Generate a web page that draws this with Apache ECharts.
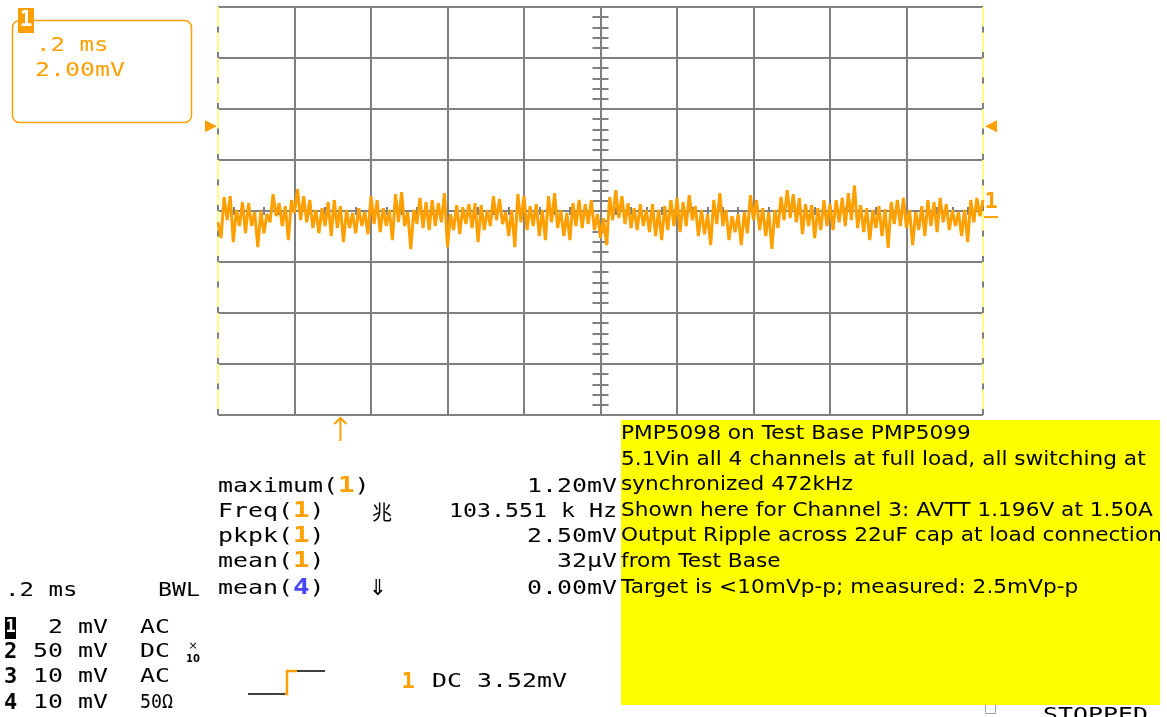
<!DOCTYPE html>
<html>
<head>
<meta charset="utf-8">
<script src="https://cdn.jsdelivr.net/npm/echarts@6/dist/echarts.min.js"></script>
<style>
  html, body { margin: 0; padding: 0; background: #ffffff; }
  #scope { width: 1167px; height: 717px; }
</style>
</head>
<body>
<div id="scope"></div>
<script>
// Channel 1 ripple, mV, one sample every 8 µs across the 2 ms screen (0.2 ms/div)
const ch1mV = [
  -0.24,-0.86, 0.75,-0.16, 0.78,-1.02, 0.24,-0.39, 0.55,-0.67,
   0.51,-0.39, 0.16,-1.22, 0.20,-0.67, 0.08,-0.24, 0.86, 0.00,
   0.51,-0.39, 0.39,-0.94, 0.63, 0.12, 1.06,-0.16, 0.78,-0.24,
   0.63,-0.47, 0.24,-0.67, 0.31,-0.39, 0.55,-0.78, 0.63,-0.47,
   0.39,-1.02, 0.24,-0.47, 0.12,-0.67, 0.31,-0.39, 0.16,-0.71,
   0.78,-0.31, 0.63,-0.63, 0.31,-0.39, 0.24,-0.94, 0.86,-0.24,
   0.94,-0.39, 0.16,-1.30, 0.24,-0.31, 0.71,-0.47, 0.55,-0.55,
   0.63,-0.39, 0.51,-0.24, 0.90,-1.22, 0.08,-0.55, 0.43,-0.71,
   0.35,-0.31, 0.47,-0.47, 0.51,-1.02, 0.43,-0.55, 0.24,-0.39,
   0.78,-0.16, 0.67,-0.31, 0.16,-0.78, 0.24,-1.22, 0.86,-0.24,
   0.78,-0.55, 0.39,-0.39, 0.47,-0.78, 0.24,-0.94, 0.78,-0.24,
   0.90,-0.47, 0.24,-0.78, 0.12,-0.94, 0.51,-0.39, 0.63,-0.47,
   0.47,-0.31, 0.63,-0.55, 0.08,-0.86,-0.08,-1.14, 0.75,-0.16,
   1.02,-0.08, 0.78,-0.31, 0.51,-0.47, 0.31,-0.55, 0.47,-0.39,
   0.24,-0.63, 0.47,-0.78, 0.24,-0.94, 0.39,-0.55, 0.63,-0.39,
   0.71,-0.63, 0.55,-0.39, 0.82,-0.16, 0.39,-0.78, 0.24,-0.71,
   0.08,-1.14, 0.63,-0.31, 0.90,-0.39, 0.24,-0.94, 0.00,-0.63,
   0.08,-1.14, 0.16,-0.67, 0.82,-0.16, 0.63,-0.55, 0.31,-0.78,
   0.16,-1.29, 0.24,-0.47, 0.75,-0.16, 1.02,-0.08, 0.86,-0.24,
   0.71,-0.71, 0.47,-0.39, 0.43,-0.86, 0.31,-0.55, 0.63,-0.39,
   0.47,-0.55, 0.63,-0.24, 0.71,-0.39, 0.90,-0.16, 1.20,-0.47,
   0.43,-0.63, 0.31,-0.94, 0.24,-0.47, 0.39,-0.78, 0.27,-1.25,
   0.55,-0.31, 0.63,-0.39, 0.71,-0.47, 0.24,-1.14, 0.16,-0.55,
   0.39,-0.78, 0.63,-0.39, 0.55,-0.63, 0.71,-0.24, 0.47,-0.55,
   0.24,-0.39, 0.16,-0.78, 0.24,-1.02, 0.63,-0.24, 0.71, 0.00,
   0.63
];
const sampleStepMs = 0.008;
const screenStartMs = -1;

// Screen scales: 10 x 0.2 ms horizontally, 8 x 2 mV vertically
const timeRangeMs = [-1, 1];
const timePerDivMs = 0.2;
const ch1ScreenMv = [-7.8, 8.2];   // channel 1 ground sits just under mid-screen

// Trigger
const triggerLevelMv = 3.52;
const triggerTimeMs = -0.68;

// Readouts
const timebaseLabel = '.2 ms';
const ch1ScaleLabel = '2.00mV';
const measNames = ['maximum', 'Freq', 'pkpk', 'mean', 'mean'];
const measSources = ['1', '1', '1', '1', '4'];
const measValues = ['1.20mV', '103.551 k Hz', '2.50mV', '32µV', '0.00mV'];
const channelIds = ['1', '2', '3', '4'];
const channelScales = ['2', '50', '10', '10'];
const channelCouplings = ['AC', 'DC', 'AC', '50Ω'];
const triggerReadout = 'DC 3.52mV';
const noteLines = [
  'PMP5098 on Test Base PMP5099',
  '5.1Vin all 4 channels at full load, all switching at',
  'synchronized 472kHz',
  'Shown here for Channel 3: AVTT 1.196V at 1.50A',
  'Output Ripple across 22uF cap at load connection',
  'from Test Base',
  'Target is <10mVp-p; measured: 2.5mVp-p'
];

const ORANGE = '#ffa000';
const BLUE = '#4646ff';
const GRID_GRAY = '#808080';
const BORDER_YELLOW = '#ffff88';
const MONO = '"DejaVu Sans Mono", monospace';

const tracePoints = ch1mV.map((v, i) => [+(screenStartMs + i * sampleStepMs).toFixed(3), v]);

const chart = echarts.init(document.getElementById('scope'), null, { renderer: 'canvas' });

const hidden = { show: false };
function centerTickAxis(inside, len) {
  return {
    axisLine: { show: true, onZero: true, onZeroAxisIndex: 0, lineStyle: { color: GRID_GRAY, width: 2 } },
    axisTick: { show: true, inside: inside, length: len, lineStyle: { color: GRID_GRAY, width: 2 } },
    minorTick: { show: true, splitNumber: 5, length: len, lineStyle: { color: GRID_GRAY, width: 2 } },
    axisLabel: hidden,
    splitLine: hidden
  };
}

chart.setOption({
  animation: false,
  backgroundColor: '#ffffff',
  grid: { left: 218, top: 7, width: 765, height: 408, containLabel: false, outerBoundsMode: 'none' },
  xAxis: [
    { type: 'value', min: timeRangeMs[0], max: timeRangeMs[1], interval: timePerDivMs, position: 'bottom',
      axisLine: hidden, axisTick: hidden, axisLabel: hidden,
      splitLine: { show: true, lineStyle: { color: GRID_GRAY, width: 2 } } },
    Object.assign({ type: 'value', min: timeRangeMs[0], max: timeRangeMs[1], interval: timePerDivMs, position: 'bottom' }, centerTickAxis(false, 4)),
    Object.assign({ type: 'value', min: timeRangeMs[0], max: timeRangeMs[1], interval: timePerDivMs, position: 'bottom' }, centerTickAxis(true, 4))
  ],
  yAxis: [
    { type: 'value', min: -4, max: 4, interval: 1, position: 'left',
      axisLine: hidden, axisTick: hidden, axisLabel: hidden,
      splitLine: { show: true, lineStyle: { color: GRID_GRAY, width: 2 } } },
    { type: 'value', min: ch1ScreenMv[0], max: ch1ScreenMv[1], show: false, position: 'left' },
    Object.assign({ type: 'value', min: -4, max: 4, interval: 1, position: 'left' }, centerTickAxis(false, 8)),
    Object.assign({ type: 'value', min: -4, max: 4, interval: 1, position: 'left' }, centerTickAxis(true, 8))
  ],
  series: [{
    type: 'line',
    xAxisIndex: 0,
    yAxisIndex: 1,
    data: tracePoints,
    showSymbol: false,
    symbol: 'none',
    clip: true,
    silent: true,
    z: 5,
    lineStyle: { color: ORANGE, width: 3, join: 'bevel' },
    markLine: {
      silent: true,
      symbol: 'none',
      label: { show: false },
      data: [
        { xAxis: timeRangeMs[0], lineStyle: { color: BORDER_YELLOW, width: 2, type: 'solid' } },
        { xAxis: timeRangeMs[1], lineStyle: { color: BORDER_YELLOW, width: 2, type: 'solid' } },
        { xAxis: timeRangeMs[0], lineStyle: { color: GRID_GRAY, width: 2, type: [6, 19.5] } },
        { xAxis: timeRangeMs[1], lineStyle: { color: GRID_GRAY, width: 2, type: [6, 19.5] } }
      ]
    }
  }]
});

// Fixed-pitch readout text, stretched to the scope's 15 px character cell
function mono(x, y, text, o) {
  o = o || {};
  const size = o.size || 19;
  const pitch = o.pitch || 15;
  return {
    type: 'text', x: x, y: y, z: 20, silent: true,
    scaleX: pitch / (size * 0.602),
    style: {
      text: text,
      font: (o.weight || 'normal') + ' ' + size + 'px ' + MONO,
      fill: o.color || '#000000',
      align: o.align || 'left',
      verticalAlign: 'middle',
      rich: o.rich
    }
  };
}
const srcRich = {
  o: { fill: ORANGE, fontWeight: 'bold', fontSize: 21, fontFamily: MONO },
  b: { fill: BLUE, fontWeight: 'bold', fontSize: 21, fontFamily: MONO }
};

const g = [];

// Channel 1 scale box
g.push({ type: 'rect', z: 20, silent: true, shape: { x: 12.5, y: 20.5, width: 179, height: 102, r: 7 },
  style: { fill: 'none', stroke: ORANGE, lineWidth: 1.5 } });
g.push({ type: 'rect', z: 21, silent: true, shape: { x: 18, y: 8, width: 16, height: 25 }, style: { fill: ORANGE } });
g.push({ type: 'text', z: 22, silent: true, x: 26, y: 21,
  style: { text: '1', font: 'bold 21px ' + MONO, fill: '#ffffff', align: 'center', verticalAlign: 'middle' } });
g.push(mono(36, 46, timebaseLabel, { color: ORANGE, pitch: 14.5 }));
g.push(mono(35, 71, ch1ScaleLabel, { color: ORANGE }));

// Measurements
const measRows = [487, 512, 537, 562, 589];
measNames.forEach((name, i) => {
  const tag = measSources[i] === '4' ? 'b' : 'o';
  g.push(mono(218, measRows[i], name + '({' + tag + '|' + measSources[i] + '})', { rich: srcRich }));
  g.push(mono(617, measRows[i], measValues[i], { align: 'right', pitch: i === 1 ? 14 : 15 }));
});
g.push({ type: 'text', z: 20, silent: true, x: 382, y: 512,
  style: { text: '兆', font: '20px "Noto Sans CJK SC"', fill: '#000', align: 'center', verticalAlign: 'middle' } });
g.push({ type: 'text', z: 20, silent: true, x: 378, y: 589,
  style: { text: '⇓', font: '22px "DejaVu Sans"', fill: '#000', align: 'center', verticalAlign: 'middle' } });
g.push(mono(5, 591, timebaseLabel, { pitch: 14.5 }));
g.push(mono(158, 591, 'BWL', { pitch: 14 }));

// Channel settings
const chRows = [628, 652, 677, 703];
channelIds.forEach((id, i) => {
  const y = chRows[i];
  if (i === 0) {
    g.push({ type: 'rect', z: 20, silent: true, shape: { x: 5, y: y - 11, width: 11, height: 22 }, style: { fill: '#000' } });
    g.push({ type: 'text', z: 21, silent: true, x: 10.5, y: y,
      style: { text: id, font: 'bold 17px ' + MONO, fill: '#fff', align: 'center', verticalAlign: 'middle' } });
  } else {
    g.push({ type: 'text', z: 20, silent: true, x: 10.5, y: y,
      style: { text: id, font: 'bold 22px ' + MONO, fill: '#000', align: 'center', verticalAlign: 'middle' } });
  }
  g.push(mono(63, y, channelScales[i], { align: 'right' }));
  g.push(mono(78, y, 'mV'));
  g.push(mono(140, y, channelCouplings[i], { pitch: i === 3 ? 11 : 15 }));
});
g.push({ type: 'text', z: 20, silent: true, x: 193, y: 646,
  style: { text: '×', font: '11px "DejaVu Sans"', fill: '#000', align: 'center', verticalAlign: 'middle' } });
g.push({ type: 'text', z: 20, silent: true, x: 193, y: 659,
  style: { text: '10', font: 'bold 10px "DejaVu Sans"', fill: '#000', align: 'center', verticalAlign: 'middle' } });

// Trigger slope icon and level readout
g.push({ type: 'polyline', z: 20, silent: true, shape: { points: [[248, 694], [286, 694]] }, style: { stroke: '#000', lineWidth: 1.5, fill: null } });
g.push({ type: 'polyline', z: 21, silent: true, shape: { points: [[285, 694], [287, 694], [287, 671], [297, 671]] }, style: { stroke: ORANGE, lineWidth: 2.5, fill: null } });
g.push({ type: 'polyline', z: 20, silent: true, shape: { points: [[297, 671], [325, 671]] }, style: { stroke: '#000', lineWidth: 1.5, fill: null } });
g.push({ type: 'text', z: 20, silent: true, x: 408, y: 682,
  style: { text: '1', font: 'bold 22px ' + MONO, fill: ORANGE, align: 'center', verticalAlign: 'middle' } });
g.push(mono(432, 682, triggerReadout));

// Run state (partly hidden under the note)
g.push(mono(1043, 716, 'STOPPED', { size: 19 }));
g.push({ type: 'rect', z: 20, silent: true, shape: { x: 985.5, y: 703.5, width: 10, height: 10 }, style: { fill: 'none', stroke: '#a0a0a0', lineWidth: 1 } });

// Annotation note
g.push({ type: 'rect', z: 30, silent: true, shape: { x: 621, y: 420, width: 539, height: 285 }, style: { fill: '#ffff00' } });
noteLines.forEach((line, i) => {
  g.push({ type: 'text', z: 31, silent: true, x: 621, y: 434 + i * 25.6, scaleX: 1.14,
    style: { text: line, font: '19px "DejaVu Sans"', fill: '#000', align: 'left', verticalAlign: 'middle' } });
});
g.push({ type: 'rect', z: 32, silent: true, shape: { x: 1160, y: 418, width: 7, height: 290 }, style: { fill: '#ffffff' } });

// Markers tied to the channel 1 scales
const toPx = (t, v) => chart.convertToPixel({ xAxisIndex: 0, yAxisIndex: 1 }, [t, v]);
const trigL = toPx(timeRangeMs[0], triggerLevelMv);
const trigR = toPx(timeRangeMs[1], triggerLevelMv);
g.push({ type: 'polygon', z: 20, silent: true,
  shape: { points: [[trigL[0] - 13, trigL[1] - 6], [trigL[0] - 1, trigL[1]], [trigL[0] - 13, trigL[1] + 6]] }, style: { fill: ORANGE } });
g.push({ type: 'polygon', z: 20, silent: true,
  shape: { points: [[trigR[0] + 14, trigR[1] - 6], [trigR[0] + 2, trigR[1]], [trigR[0] + 14, trigR[1] + 6]] }, style: { fill: ORANGE } });

const gnd = toPx(timeRangeMs[1], 0);
g.push({ type: 'polyline', z: 20, silent: true, shape: { points: [[gnd[0] + 1, gnd[1] + 1], [gnd[0] + 15, gnd[1] + 1]] }, style: { stroke: ORANGE, lineWidth: 2, fill: null } });
g.push({ type: 'text', z: 20, silent: true, x: gnd[0] + 8, y: gnd[1] - 3,
  style: { text: '1', font: 'bold 22px ' + MONO, fill: ORANGE, align: 'center', verticalAlign: 'bottom' } });

const trigT = toPx(triggerTimeMs, ch1ScreenMv[0]);
g.push({ type: 'polyline', z: 20, silent: true, shape: { points: [[trigT[0], trigT[1] + 3], [trigT[0], trigT[1] + 26]] }, style: { stroke: ORANGE, lineWidth: 2, fill: null } });
g.push({ type: 'polyline', z: 20, silent: true, shape: { points: [[trigT[0] - 6, trigT[1] + 9], [trigT[0], trigT[1] + 3], [trigT[0] + 6, trigT[1] + 9]] }, style: { stroke: ORANGE, lineWidth: 2, fill: null } });

chart.setOption({ graphic: g });
</script>
</body>
</html>
